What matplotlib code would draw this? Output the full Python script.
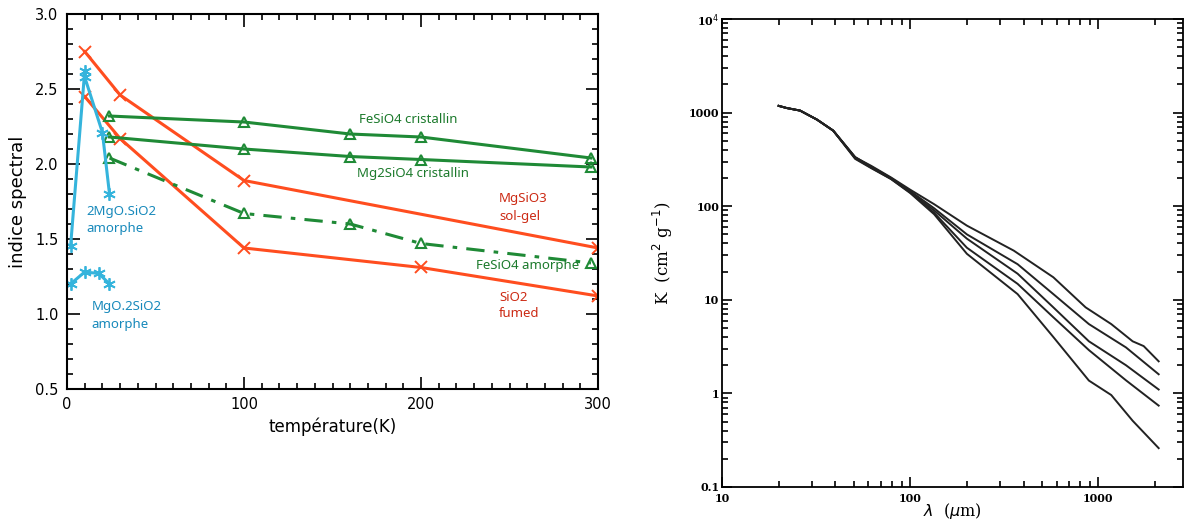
import matplotlib
matplotlib.use("Agg")
import matplotlib.pyplot as plt
from matplotlib.ticker import MultipleLocator, FixedLocator, FixedFormatter, NullFormatter

# ---- left panel: spectral index vs temperature --------------------------------
T_mgsio3 = [10, 30, 100, 300]
n_mgsio3 = [2.75, 2.46, 1.89, 1.44]
T_sio2 = [10, 30, 100, 200, 300]
n_sio2 = [2.45, 2.17, 1.44, 1.31, 1.12]

T_green = [24, 100, 160, 200, 296]
n_fesio4_cr = [2.32, 2.28, 2.20, 2.18, 2.04]
n_mg2sio4_cr = [2.18, 2.10, 2.05, 2.03, 1.98]
n_fesio4_am = [2.04, 1.67, 1.60, 1.47, 1.34]

T_2mgo = [2, 10, 10, 20, 24]
n_2mgo = [1.45, 2.62, 2.58, 2.21, 1.80]
T_mgo2 = [2, 10, 18, 24]
n_mgo2 = [1.20, 1.28, 1.27, 1.20]

# ---- right panel: opacity K vs wavelength -------------------------------------
lam_A = [20, 22, 26, 32, 39, 51, 62, 79, 100, 134, 200, 355, 576, 855, 1170, 1520, 1740, 2090]
K_A = [1180, 1120, 1050, 840, 641, 333, 270, 203, 150, 105, 62, 33.5, 17.4, 8.3, 5.5, 3.6, 3.2, 2.2]
lam_B = [20, 22, 26, 32, 39, 51, 62, 79, 100, 134, 200, 372, 576, 890, 1400, 2090]
K_B = [1180, 1120, 1050, 840, 641, 330, 265, 200, 145, 95, 50, 24, 11.5, 5.5, 3.1, 1.6]
lam_C = [20, 22, 26, 32, 39, 51, 62, 79, 100, 134, 200, 372, 576, 890, 1400, 2090]
K_C = [1180, 1120, 1050, 840, 641, 335, 262, 198, 142, 90, 45, 19, 8.3, 3.6, 2.0, 1.1]
lam_D = [20, 22, 26, 32, 39, 51, 62, 79, 100, 134, 200, 372, 576, 890, 1400, 2090]
K_D = [1180, 1120, 1050, 840, 641, 325, 258, 196, 140, 85, 36, 14.8, 6.5, 2.9, 1.38, 0.74]
lam_E = [20, 22, 26, 32, 39, 51, 62, 79, 100, 134, 200, 372, 576, 890, 1170, 1520, 2090]
K_E = [1180, 1120, 1050, 840, 641, 320, 255, 195, 138, 82, 31, 11.5, 4.0, 1.37, 0.96, 0.51, 0.26]

ORANGE = "#ff4d1f"
GREEN = "#1f8a36"
CYAN = "#35b4dc"
RED_TXT = "#cc2a14"
GREEN_TXT = "#1c7a2c"
BLUE_TXT = "#1789bb"

fig = plt.figure(figsize=(11.84, 5.2), dpi=100)

# left
ax = fig.add_axes([0.0566, 0.252, 0.4485, 0.721])
lw = 2.2
ax.plot(T_mgsio3, n_mgsio3, color=ORANGE, lw=lw, marker="x", ms=8, mew=1.4)
ax.plot(T_sio2, n_sio2, color=ORANGE, lw=lw, marker="x", ms=8, mew=1.4)
tri = dict(marker="^", ms=7, mfc="none", mew=1.5)
ax.plot(T_green, n_fesio4_cr, color=GREEN, lw=lw, **tri)
ax.plot(T_green, n_mg2sio4_cr, color=GREEN, lw=lw, **tri)
ax.plot(T_green, n_fesio4_am, color=GREEN, lw=lw, ls=(0, (6, 3, 1.5, 3)), **tri)
star = dict(marker=(6, 2, 0), ms=9, mew=1.3)
ax.plot(T_2mgo, n_2mgo, color=CYAN, lw=lw, **star)
ax.plot(T_mgo2, n_mgo2, color=CYAN, lw=lw, **star)

lab = dict(fontsize=9.5, family="Noto Sans", fontweight="semibold", va="center")
ax.text(165, 2.295, "FeSiO4 cristallin", color=GREEN_TXT, **lab)
ax.text(164, 1.94, "Mg2SiO4 cristallin", color=GREEN_TXT, **lab)
ax.text(244, 1.77, "MgSiO3", color=RED_TXT, **lab)
ax.text(244, 1.65, "sol-gel", color=RED_TXT, **lab)
ax.text(231, 1.32, "FeSiO4 amorphe", color=GREEN_TXT, **lab)
ax.text(244, 1.11, "SiO2", color=RED_TXT, **lab)
ax.text(244, 1.00, "fumed", color=RED_TXT, **lab)
ax.text(11, 1.68, "2MgO.SiO2", color=BLUE_TXT, **lab)
ax.text(11, 1.57, "amorphe", color=BLUE_TXT, **lab)
ax.text(14, 1.05, "MgO.2SiO2", color=BLUE_TXT, **lab)
ax.text(14, 0.93, "amorphe", color=BLUE_TXT, **lab)

ax.set_xlim(0, 300)
ax.set_ylim(0.5, 3.0)
ax.xaxis.set_major_locator(MultipleLocator(100))
ax.xaxis.set_minor_locator(MultipleLocator(10))
ax.yaxis.set_major_locator(MultipleLocator(0.5))
ax.yaxis.set_minor_locator(MultipleLocator(0.1))
ax.yaxis.set_major_formatter(plt.FuncFormatter(lambda v, p: f"{v:.1f}"))
ax.tick_params(which="both", direction="in", top=True, right=True, width=1.2, labelsize=10.5)
ax.tick_params(which="major", length=9, pad=6)
ax.tick_params(which="minor", length=4)
for s in ax.spines.values():
    s.set_linewidth(1.5)
ax.set_xlabel("température(K)", fontsize=12, labelpad=4)
ax.set_ylabel("indice spectral", fontsize=13, labelpad=6)

# right
ax2 = fig.add_axes([0.6098, 0.0635, 0.389, 0.90])
for lam, K in [(lam_A, K_A), (lam_B, K_B), (lam_C, K_C), (lam_D, K_D), (lam_E, K_E)]:
    ax2.plot(lam, K, color="#222222", lw=1.4)
ax2.set_xscale("log")
ax2.set_yscale("log")
ax2.set_xlim(10, 2800)
ax2.set_ylim(0.1, 1e4)
minor = [m * 10.0 ** e for e in range(-1, 4) for m in range(2, 10)]
ax2.yaxis.set_major_locator(FixedLocator([0.1, 1, 10, 100, 1000, 1e4]))
ax2.yaxis.set_major_formatter(FixedFormatter(["0.1", "1", "10", "100", "1000", r"10$^4$"]))
ax2.xaxis.set_major_locator(FixedLocator([10, 100, 1000]))
ax2.xaxis.set_major_formatter(FixedFormatter(["10", "100", "1000"]))
ax2.xaxis.set_minor_locator(FixedLocator(minor))
ax2.yaxis.set_minor_locator(FixedLocator(minor))
ax2.xaxis.set_minor_formatter(NullFormatter())
ax2.yaxis.set_minor_formatter(NullFormatter())
ax2.tick_params(which="both", direction="in", top=True, right=True, width=1.2)
ax2.tick_params(which="major", length=7, labelsize=8, pad=2)
ax2.tick_params(axis="x", which="major", pad=4)
ax2.tick_params(which="minor", length=4)
for t in ax2.get_xticklabels() + ax2.get_yticklabels():
    t.set_family("DejaVu Serif")
    t.set_fontweight("bold")
for s in ax2.spines.values():
    s.set_linewidth(1.3)
ax2.set_xlabel(r"$\lambda$  ($\mu$m)", fontsize=11.5, family="DejaVu Serif", labelpad=-2)
ax2.set_ylabel(r"K  (cm$^2$ g$^{-1}$)", fontsize=12, family="DejaVu Serif", labelpad=10)

fig.savefig("out.png", dpi=100)
